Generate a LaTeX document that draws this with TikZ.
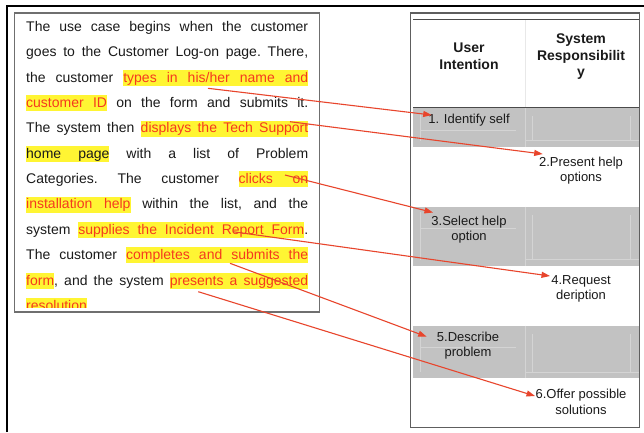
\documentclass[tikz,border=0pt]{standalone}
\usepackage{fontspec}
\setmainfont{Liberation Sans}
\usetikzlibrary{arrows.meta}
\definecolor{hly}{HTML}{FFF533}
\definecolor{tred}{HTML}{F53A1E}
\definecolor{tblack}{HTML}{1A1A1A}
\definecolor{ared}{HTML}{E8452C}
\definecolor{band}{HTML}{C2C2C2}
\definecolor{bandline}{HTML}{D4D4D4}
\definecolor{headline}{HTML}{E8E8E8}
\definecolor{boxgray}{HTML}{6F6F6F}
\definecolor{tabgray}{HTML}{5E5E5E}
\definecolor{rulegray}{HTML}{4A4A4A}
\newcommand\hw[2][tred]{\setbox0=\hbox{#2}\rlap{\color{hly}\rule[-3.8pt]{\wd0}{16.2pt}}\textcolor{#1}{\box0}}
\newcommand\hsp{{\color{hly}\leaders\hrule height 12.4pt depth 3.8pt\hskip\fontdimen2\font plus\fontdimen3\font\relax}}
\newcommand\jline[1]{\makebox[282pt][s]{#1}}
\begin{document}
\begin{tikzpicture}[x=1pt,y=-1pt,
  txtline/.style={anchor=base west, inner sep=0pt, font=\frenchspacing\fontsize{14}{16}\selectfont, text=tblack},
  cell/.style={align=center, inner sep=0pt, font=\fontsize{13}{15.5}\selectfont, text=tblack},
  head/.style={align=center, inner sep=0pt, font=\bfseries\fontsize{14}{16.5}\selectfont, text=tblack},
  arr/.style={draw=ared, line width=1.1pt, -{Triangle[length=8.5pt,width=6pt]}},
  bandfill/.style={fill=band},
  faint/.style={draw=bandline, line width=0.7pt}]
\useasboundingbox (0,0) rectangle (644,432);
\fill[white] (0,0) rectangle (644,432);
% outer frame
\draw[line width=1.8pt, black] (7,432) -- (7,6) -- (644,6);
% left text box
\draw[line width=1.8pt, draw=boxgray] (14.5,13) rectangle (319.5,312);
\begin{scope}
\clip (16,14) rectangle (318,307);
\node[txtline] (l1) at (26,31.5) {\jline{The use case begins when the customer}};
\node[txtline] (l2) at (26,56.85) {\jline{goes to the Customer Log-on page. There,}};
\node[txtline] (l3) at (26,82.2) {\jline{the customer \hw{types}\hsp\hw{in}\hsp\hw{his/her}\hsp\hw{name}\hsp\hw{and}}};
\node[txtline] (l4) at (26,107.55) {\jline{\hw{customer}\hsp\hw{ID} on the form and submits it.}};
\node[txtline] (l5) at (26,132.9) {\jline{The system then \hw{displays}\hsp\hw{the}\hsp\hw{Tech}\hsp\hw{Support}}};
\node[txtline] (l6) at (26,158.25) {\jline{\hw[tblack]{home}\hsp\hw[tblack]{page} with a list of Problem}};
\node[txtline] (l7) at (26,183.6) {\jline{Categories. The customer \hw{clicks}\hsp\hw{on}}};
\node[txtline] (l8) at (26,208.95) {\jline{\hw{installation}\hsp\hw{help} within the list, and the}};
\node[txtline] (l9) at (26,234.3) {\jline{system \hw{supplies}\hsp\hw{the}\hsp\hw{Incident}\hsp\hw{Report}\hsp\hw{Form}.}};
\node[txtline] (l10) at (26,259.65) {\jline{The customer \hw{completes}\hsp\hw{and}\hsp\hw{submits}\hsp\hw{the}}};
\node[txtline] (l11) at (26,285.0) {\jline{\hw{form}, and the system \hw{presents}\hsp\hw{a}\hsp\hw{suggested}}};
\node[txtline] (l12) at (26,310.35) {\hw{resolution}};
\end{scope}
% table
\fill[bandfill] (413,108) rectangle (639,146.7);
\fill[bandfill] (413,206.7) rectangle (639,265.7);
\fill[bandfill] (413,325.7) rectangle (639,378.3);
% faint cell lines in bands
\foreach \t/\b in {108/146.7, 206.7/265.7, 325.7/378.3}{
  \draw[faint] (525,\t) -- (525,\b);
  \draw[faint] (420.7,\t+5) -- (420.7,\b-6);
  \draw[faint] (532.7,\t+8) -- (532.7,\b-6);
  \draw[faint] (630.7,\t+8) -- (630.7,\b-6);
  \draw[faint] (525,\b-6) -- (639,\b-6);
  \draw[faint] (420.7,\t+22) -- (516,\t+22);
}
\draw[draw=headline, line width=0.6pt] (525,19.3) -- (525,107.3);
\draw[line width=1.6pt, draw=rulegray] (413,19.3) -- (639,19.3);
\draw[line width=1.6pt, draw=rulegray] (413,107.3) -- (639,107.3);
\draw[line width=1.2pt, draw=tabgray] (410.5,13) rectangle (639.5,427.5);
\node[head] (h1) at (469,56.3) {User\\Intention};
\node[head] (h2) at (581,57) {System\\Responsibilit\\y};
\node[cell] (c1) at (469,120.5) {1. Identify self};
\node[cell] (c2) at (581,170.5) {2.Present help\\options};
\node[cell] (c3) at (469,229.7) {3.Select help\\option};
\node[cell] (c4) at (581,289) {4.Request\\deription};
\node[cell] (c5) at (468,345.5) {5.Describe\\problem};
\node[cell] (c6) at (581,402) {6.Offer possible\\solutions};
% arrows
\coordinate (s1) at (208,88.3);   \coordinate (e1) at (431.7,115);
\coordinate (s2) at (290,121.7);  \coordinate (e2) at (542.7,154);
\coordinate (s3) at (285,175);    \coordinate (e3) at (433,212.5);
\coordinate (s4) at (233,231.7);  \coordinate (e4) at (550,276);
\coordinate (s5) at (230,263.3);  \coordinate (e5) at (426.7,336.7);
\coordinate (s6) at (198.3,291.7);\coordinate (e6) at (535,396);
\draw[arr] (s1) -- (e1);
\draw[arr] (s2) -- (e2);
\draw[arr] (s3) -- (e3);
\draw[arr] (s4) -- (e4);
\draw[arr] (s5) -- (e5);
\draw[arr] (s6) -- (e6);
\end{tikzpicture}
\end{document}
